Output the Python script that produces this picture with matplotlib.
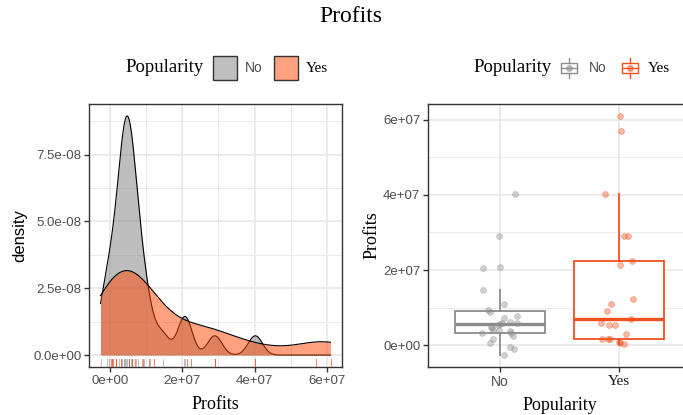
import numpy as np
import matplotlib.pyplot as plt
from matplotlib.patches import Rectangle
from matplotlib.lines import Line2D

# Profits per film, split by popularity
no_profits = np.array([-2.6, -0.9, -0.37, 0.61, 1.59, 2.39, 3.2, 3.35, 3.9, 4.0,
                       4.1, 4.5, 4.8, 5.4, 5.75, 6.0, 6.0, 6.1, 7.2, 7.9, 8.95,
                       9.3, 11.0, 14.6, 20.6, 20.9, 29.0, 40.2]) * 1e6
yes_profits = np.array([0.27, 0.69, 0.96, 1.59, 1.59, 1.59, 3.0, 5.39, 5.39, 6.0,
                        7.0, 9.03, 10.9, 12.3, 21.4, 22.3, 29.0, 29.0, 40.2, 57.1,
                        61.0]) * 1e6
groups = ['No', 'Yes']

SERIF = 'Liberation Serif'
SANS = 'Liberation Sans'
TICK_GREY = '#4D4D4D'
NO_COL = '#8C8C8C'
YES_COL = '#F0501E'
W, H = 683, 415


def kde_nrd0(x, grid):
    """Gaussian KDE with R's default bandwidth (bw.nrd0)."""
    n = len(x)
    sd = np.std(x, ddof=1)
    q75, q25 = np.percentile(x, [75, 25])
    bw = 0.9 * min(sd, (q75 - q25) / 1.34) * n ** -0.2
    z = (grid[:, None] - x[None, :]) / bw
    return np.exp(-0.5 * z ** 2).sum(axis=1) / (n * bw * np.sqrt(2 * np.pi))


def expand(lo, hi, f=0.05):
    d = (hi - lo) * f
    return lo - d, hi + d


def theme_bw(ax, xmajor, xminor, ymajor, yminor):
    ax.set_facecolor('white')
    for s in ax.spines.values():
        s.set_color('#333333')
        s.set_linewidth(1.0)
    ax.set_axisbelow(True)
    for v in xminor:
        ax.axvline(v, color='#EBEBEB', lw=0.7, zorder=0)
    for v in yminor:
        ax.axhline(v, color='#EBEBEB', lw=0.7, zorder=0)
    for v in xmajor:
        ax.axvline(v, color='#EBEBEB', lw=1.4, zorder=0)
    for v in ymajor:
        ax.axhline(v, color='#EBEBEB', lw=1.4, zorder=0)
    ax.tick_params(length=3.5, width=1.0, color='#333333', labelcolor=TICK_GREY,
                   labelsize=9.5, pad=2)
    for lab in ax.get_xticklabels() + ax.get_yticklabels():
        lab.set_fontfamily(SANS)


def px(x, y):
    return x / W, 1 - y / H


fig = plt.figure(figsize=(W / 100, H / 100), dpi=100)
fig.text(*px(351, 17), 'Profits', ha='center', va='center', fontsize=17,
         fontfamily=SERIF)

# ---- density panel ----
ax1 = fig.add_axes([89 / W, 1 - 367 / H, 253 / W, 263 / H])
all_profits = np.concatenate([no_profits, yes_profits])
grid = np.linspace(all_profits.min(), all_profits.max(), 512)
dens_no = kde_nrd0(no_profits, grid)
dens_yes = kde_nrd0(yes_profits, grid)

ax1.fill_between(grid, 0, dens_no, color='#7F7F7F', alpha=0.5, lw=0, zorder=2)
ax1.plot(grid, dens_no, color='black', lw=0.8, zorder=2)
ax1.fill_between(grid, 0, dens_yes, color='#FF4500', alpha=0.5, lw=0, zorder=3)
ax1.plot(grid, dens_yes, color='black', lw=0.8, zorder=3)

xlo, xhi = expand(all_profits.min(), all_profits.max())
ylo, yhi = expand(0, max(dens_no.max(), dens_yes.max()))
ax1.set_xlim(xlo, xhi)
ax1.set_ylim(ylo, yhi)

rug_tf = ax1.get_xaxis_transform()
for vals, col in [(no_profits, '#A0A0A0'), (yes_profits, '#F0501E')]:
    for v in vals:
        ax1.plot([v, v], [0, 0.03], transform=rug_tf, color=col, lw=0.7,
                 alpha=0.7, zorder=4)

ax1.set_xticks([0, 2e7, 4e7, 6e7])
ax1.set_xticklabels(['0e+00', '2e+07', '4e+07', '6e+07'])
ax1.set_yticks([0, 2.5e-8, 5e-8, 7.5e-8])
ax1.set_yticklabels(['0.0e+00', '2.5e-08', '5.0e-08', '7.5e-08'])
theme_bw(ax1, [0, 2e7, 4e7, 6e7], [-1e7, 1e7, 3e7, 5e7],
         [0, 2.5e-8, 5e-8, 7.5e-8], [1.25e-8, 3.75e-8, 6.25e-8, 8.75e-8])
ax1.set_xlabel('Profits', fontfamily=SERIF, fontsize=13, labelpad=7)
ax1.set_ylabel('density', fontfamily=SANS, fontsize=12, labelpad=4)

# ---- boxplot panel ----
ax2 = fig.add_axes([428 / W, 1 - 367 / H, 263 / W, 263 / H])
rng = np.random.default_rng(7)
for i, (vals, col) in enumerate([(no_profits, NO_COL), (yes_profits, YES_COL)]):
    pos = i + 1
    ax2.boxplot(vals, positions=[pos], widths=0.75, showfliers=False,
                patch_artist=True, manage_ticks=False,
                boxprops=dict(facecolor='white', edgecolor=col, lw=1.3),
                whiskerprops=dict(color=col, lw=1.3),
                capprops=dict(lw=0),
                medianprops=dict(color=col, lw=2.4),
                zorder=2)
    jit = rng.uniform(-0.15, 0.15, len(vals))
    ax2.scatter(pos + jit, vals, s=18, color=col, alpha=0.4, lw=0.6,
                edgecolor=col, zorder=3)

ax2.set_xlim(0.4, 2.6)
ax2.set_ylim(*expand(all_profits.min(), all_profits.max()))
ax2.set_xticks([1, 2])
ax2.set_xticklabels(groups)
ax2.set_yticks([0, 2e7, 4e7, 6e7])
ax2.set_yticklabels(['0e+00', '2e+07', '4e+07', '6e+07'])
theme_bw(ax2, [1, 2], [], [0, 2e7, 4e7, 6e7], [1e7, 3e7, 5e7])
xt = ax2.get_xticklabels()
xt[0].set_fontsize(10)
xt[1].set_fontfamily(SERIF)
xt[1].set_fontsize(11)
xt[1].set_color('#1A1A1A')
ax2.set_xlabel('Popularity', fontfamily=SERIF, fontsize=13, labelpad=6)
ax2.set_ylabel('Profits', fontfamily=SERIF, fontsize=13, labelpad=2)

# ---- legends ----
ky = 68
fig.text(*px(125, ky), 'Popularity', ha='left', va='center', fontsize=13.5,
         fontfamily=SERIF)
for x0, fc in [(213, '#BFBFBF'), (274, '#FFA27F')]:
    fig.patches.append(Rectangle(px(x0, ky + 12), 24 / W, 24 / H,
                                 transform=fig.transFigure, facecolor=fc,
                                 edgecolor='#333333', lw=1.0))
fig.text(*px(245, ky), 'No', ha='left', va='center', fontsize=10,
         fontfamily=SANS, color=TICK_GREY)
fig.text(*px(306, ky + 1), 'Yes', ha='left', va='center', fontsize=11,
         fontfamily=SERIF)

fig.text(*px(473, ky), 'Popularity', ha='left', va='center', fontsize=13.5,
         fontfamily=SERIF)
for xc, col in [(569, NO_COL), (630, YES_COL)]:
    bw_, bh = 16, 10
    fig.patches.append(Rectangle(px(xc - bw_ / 2, ky + bh / 2), bw_ / W, bh / H,
                                 transform=fig.transFigure, facecolor='white',
                                 edgecolor=col, lw=1.0))
    for y0, y1 in [(ky - 10, ky - 5), (ky + 5, ky + 10)]:
        fig.lines.append(Line2D([xc / W, xc / W], [1 - y0 / H, 1 - y1 / H],
                                transform=fig.transFigure, color=col, lw=1.0))
    fig.lines.append(Line2D([(xc - bw_ / 2) / W, (xc + bw_ / 2) / W],
                            [1 - ky / H, 1 - ky / H], transform=fig.transFigure,
                            color=col, lw=1.0))
    fig.lines.append(Line2D([xc / W], [1 - ky / H], transform=fig.transFigure,
                            marker='o', ms=4, color=col, alpha=0.5, lw=0))
fig.text(*px(589, ky), 'No', ha='left', va='center', fontsize=10,
         fontfamily=SANS, color=TICK_GREY)
fig.text(*px(648, ky + 1), 'Yes', ha='left', va='center', fontsize=11,
         fontfamily=SERIF)

fig.savefig('out.png', dpi=100)
